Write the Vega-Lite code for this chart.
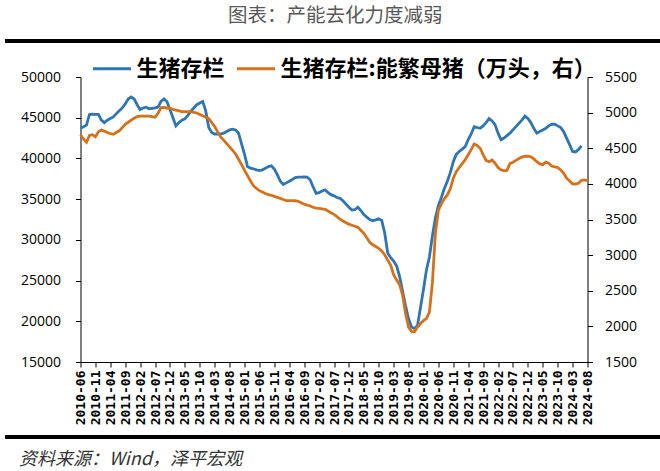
{
  "$schema": "https://vega.github.io/schema/vega-lite/v6.json",
  "padding": {"left": 4, "top": 4, "right": 0, "bottom": 0},
  "datasets": {
    "pigs": [
      {"date": "2010-06", "hog": 43700, "sow": 4690},
      {"date": "2010-07", "hog": 43900, "sow": 4630},
      {"date": "2010-08", "hog": 44100, "sow": 4585},
      {"date": "2010-09", "hog": 45400, "sow": 4680},
      {"date": "2010-10", "hog": 45450, "sow": 4690},
      {"date": "2010-11", "hog": 45400, "sow": 4660},
      {"date": "2010-12", "hog": 45400, "sow": 4730},
      {"date": "2011-01", "hog": 44700, "sow": 4755},
      {"date": "2011-02", "hog": 44400, "sow": 4740},
      {"date": "2011-03", "hog": 44700, "sow": 4720},
      {"date": "2011-04", "hog": 44900, "sow": 4705},
      {"date": "2011-05", "hog": 45100, "sow": 4695},
      {"date": "2011-06", "hog": 45500, "sow": 4720},
      {"date": "2011-07", "hog": 45850, "sow": 4745},
      {"date": "2011-08", "hog": 46200, "sow": 4790},
      {"date": "2011-09", "hog": 46700, "sow": 4835},
      {"date": "2011-10", "hog": 47300, "sow": 4865},
      {"date": "2011-11", "hog": 47550, "sow": 4895},
      {"date": "2011-12", "hog": 47300, "sow": 4920},
      {"date": "2012-01", "hog": 46600, "sow": 4945},
      {"date": "2012-02", "hog": 46000, "sow": 4950},
      {"date": "2012-03", "hog": 46200, "sow": 4950},
      {"date": "2012-04", "hog": 46300, "sow": 4952},
      {"date": "2012-05", "hog": 46100, "sow": 4950},
      {"date": "2012-06", "hog": 46150, "sow": 4945},
      {"date": "2012-07", "hog": 46200, "sow": 4935},
      {"date": "2012-08", "hog": 46300, "sow": 4990},
      {"date": "2012-09", "hog": 47000, "sow": 5070},
      {"date": "2012-10", "hog": 47300, "sow": 5072},
      {"date": "2012-11", "hog": 46950, "sow": 5065},
      {"date": "2012-12", "hog": 46000, "sow": 5060},
      {"date": "2013-01", "hog": 45000, "sow": 5045},
      {"date": "2013-02", "hog": 44000, "sow": 5035},
      {"date": "2013-03", "hog": 44400, "sow": 5025},
      {"date": "2013-04", "hog": 44700, "sow": 5015},
      {"date": "2013-05", "hog": 44860, "sow": 5013},
      {"date": "2013-06", "hog": 45300, "sow": 5013},
      {"date": "2013-07", "hog": 45800, "sow": 5013},
      {"date": "2013-08", "hog": 46200, "sow": 5005},
      {"date": "2013-09", "hog": 46600, "sow": 4995},
      {"date": "2013-10", "hog": 46800, "sow": 4975},
      {"date": "2013-11", "hog": 47000, "sow": 4955},
      {"date": "2013-12", "hog": 45800, "sow": 4935},
      {"date": "2014-01", "hog": 43800, "sow": 4915},
      {"date": "2014-02", "hog": 43200, "sow": 4860},
      {"date": "2014-03", "hog": 43000, "sow": 4805},
      {"date": "2014-04", "hog": 43000, "sow": 4730},
      {"date": "2014-05", "hog": 43000, "sow": 4660},
      {"date": "2014-06", "hog": 43100, "sow": 4615},
      {"date": "2014-07", "hog": 43300, "sow": 4565},
      {"date": "2014-08", "hog": 43500, "sow": 4520},
      {"date": "2014-09", "hog": 43600, "sow": 4470},
      {"date": "2014-10", "hog": 43500, "sow": 4420},
      {"date": "2014-11", "hog": 43100, "sow": 4345},
      {"date": "2014-12", "hog": 41800, "sow": 4270},
      {"date": "2015-01", "hog": 40500, "sow": 4190},
      {"date": "2015-02", "hog": 39000, "sow": 4115},
      {"date": "2015-03", "hog": 38800, "sow": 4040},
      {"date": "2015-04", "hog": 38730, "sow": 3975},
      {"date": "2015-05", "hog": 38600, "sow": 3935},
      {"date": "2015-06", "hog": 38500, "sow": 3905},
      {"date": "2015-07", "hog": 38600, "sow": 3885},
      {"date": "2015-08", "hog": 38800, "sow": 3865},
      {"date": "2015-09", "hog": 39000, "sow": 3850},
      {"date": "2015-10", "hog": 39100, "sow": 3840},
      {"date": "2015-11", "hog": 38700, "sow": 3825},
      {"date": "2015-12", "hog": 38000, "sow": 3810},
      {"date": "2016-01", "hog": 37200, "sow": 3797},
      {"date": "2016-02", "hog": 36800, "sow": 3780},
      {"date": "2016-03", "hog": 37000, "sow": 3765},
      {"date": "2016-04", "hog": 37200, "sow": 3765},
      {"date": "2016-05", "hog": 37400, "sow": 3765},
      {"date": "2016-06", "hog": 37650, "sow": 3763},
      {"date": "2016-07", "hog": 37700, "sow": 3755},
      {"date": "2016-08", "hog": 37700, "sow": 3735},
      {"date": "2016-09", "hog": 37720, "sow": 3715},
      {"date": "2016-10", "hog": 37700, "sow": 3703},
      {"date": "2016-11", "hog": 37380, "sow": 3690},
      {"date": "2016-12", "hog": 36500, "sow": 3672},
      {"date": "2017-01", "hog": 35700, "sow": 3660},
      {"date": "2017-02", "hog": 35800, "sow": 3655},
      {"date": "2017-03", "hog": 36000, "sow": 3648},
      {"date": "2017-04", "hog": 36150, "sow": 3643},
      {"date": "2017-05", "hog": 35800, "sow": 3620},
      {"date": "2017-06", "hog": 35550, "sow": 3595},
      {"date": "2017-07", "hog": 35400, "sow": 3572},
      {"date": "2017-08", "hog": 35200, "sow": 3540},
      {"date": "2017-09", "hog": 35100, "sow": 3505},
      {"date": "2017-10", "hog": 34800, "sow": 3480},
      {"date": "2017-11", "hog": 34400, "sow": 3455},
      {"date": "2017-12", "hog": 34000, "sow": 3435},
      {"date": "2018-01", "hog": 33650, "sow": 3420},
      {"date": "2018-02", "hog": 33700, "sow": 3405},
      {"date": "2018-03", "hog": 34000, "sow": 3390},
      {"date": "2018-04", "hog": 33600, "sow": 3350},
      {"date": "2018-05", "hog": 33100, "sow": 3306},
      {"date": "2018-06", "hog": 32800, "sow": 3245},
      {"date": "2018-07", "hog": 32500, "sow": 3180},
      {"date": "2018-08", "hog": 32350, "sow": 3145},
      {"date": "2018-09", "hog": 32450, "sow": 3120},
      {"date": "2018-10", "hog": 32600, "sow": 3095},
      {"date": "2018-11", "hog": 32400, "sow": 3060},
      {"date": "2018-12", "hog": 30850, "sow": 3005},
      {"date": "2019-01", "hog": 28400, "sow": 2930},
      {"date": "2019-02", "hog": 27800, "sow": 2860},
      {"date": "2019-03", "hog": 27400, "sow": 2725},
      {"date": "2019-04", "hog": 26800, "sow": 2650},
      {"date": "2019-05", "hog": 25500, "sow": 2585},
      {"date": "2019-06", "hog": 23700, "sow": 2440},
      {"date": "2019-07", "hog": 21900, "sow": 2180},
      {"date": "2019-08", "hog": 20300, "sow": 1990},
      {"date": "2019-09", "hog": 19300, "sow": 1930},
      {"date": "2019-10", "hog": 19100, "sow": 1925},
      {"date": "2019-11", "hog": 19500, "sow": 1990},
      {"date": "2019-12", "hog": 21700, "sow": 2040},
      {"date": "2020-01", "hog": 23900, "sow": 2080},
      {"date": "2020-02", "hog": 26300, "sow": 2110},
      {"date": "2020-03", "hog": 27900, "sow": 2200},
      {"date": "2020-04", "hog": 30500, "sow": 2620},
      {"date": "2020-05", "hog": 32700, "sow": 3306},
      {"date": "2020-06", "hog": 34200, "sow": 3630},
      {"date": "2020-07", "hog": 35200, "sow": 3720},
      {"date": "2020-08", "hog": 36300, "sow": 3790},
      {"date": "2020-09", "hog": 37200, "sow": 3845},
      {"date": "2020-10", "hog": 38250, "sow": 3930},
      {"date": "2020-11", "hog": 39600, "sow": 4080},
      {"date": "2020-12", "hog": 40500, "sow": 4170},
      {"date": "2021-01", "hog": 40850, "sow": 4230},
      {"date": "2021-02", "hog": 41150, "sow": 4285},
      {"date": "2021-03", "hog": 41450, "sow": 4340},
      {"date": "2021-04", "hog": 42300, "sow": 4410},
      {"date": "2021-05", "hog": 43000, "sow": 4480},
      {"date": "2021-06", "hog": 43900, "sow": 4560},
      {"date": "2021-07", "hog": 43800, "sow": 4540},
      {"date": "2021-08", "hog": 43700, "sow": 4500},
      {"date": "2021-09", "hog": 44000, "sow": 4410},
      {"date": "2021-10", "hog": 44400, "sow": 4330},
      {"date": "2021-11", "hog": 44900, "sow": 4311},
      {"date": "2021-12", "hog": 44600, "sow": 4335},
      {"date": "2022-01", "hog": 44150, "sow": 4290},
      {"date": "2022-02", "hog": 43100, "sow": 4230},
      {"date": "2022-03", "hog": 42300, "sow": 4195},
      {"date": "2022-04", "hog": 42500, "sow": 4185},
      {"date": "2022-05", "hog": 42800, "sow": 4190},
      {"date": "2022-06", "hog": 43100, "sow": 4285},
      {"date": "2022-07", "hog": 43500, "sow": 4305},
      {"date": "2022-08", "hog": 43900, "sow": 4330},
      {"date": "2022-09", "hog": 44300, "sow": 4355},
      {"date": "2022-10", "hog": 44700, "sow": 4375},
      {"date": "2022-11", "hog": 45200, "sow": 4390},
      {"date": "2022-12", "hog": 44900, "sow": 4388},
      {"date": "2023-01", "hog": 44400, "sow": 4380},
      {"date": "2023-02", "hog": 43700, "sow": 4350},
      {"date": "2023-03", "hog": 43100, "sow": 4311},
      {"date": "2023-04", "hog": 43300, "sow": 4280},
      {"date": "2023-05", "hog": 43500, "sow": 4270},
      {"date": "2023-06", "hog": 43700, "sow": 4305},
      {"date": "2023-07", "hog": 44000, "sow": 4290},
      {"date": "2023-08", "hog": 44200, "sow": 4250},
      {"date": "2023-09", "hog": 44200, "sow": 4240},
      {"date": "2023-10", "hog": 44000, "sow": 4230},
      {"date": "2023-11", "hog": 43800, "sow": 4195},
      {"date": "2023-12", "hog": 43300, "sow": 4150},
      {"date": "2024-01", "hog": 42500, "sow": 4080},
      {"date": "2024-02", "hog": 41700, "sow": 4040},
      {"date": "2024-03", "hog": 40850, "sow": 4000},
      {"date": "2024-04", "hog": 40800, "sow": 3998},
      {"date": "2024-05", "hog": 41100, "sow": 4010},
      {"date": "2024-06", "hog": 41550, "sow": 4050},
      {"date": "2024-07", "sow": 4055},
      {"date": "2024-08", "sow": 4044}
    ]
  },
  "concat": [
    {
      "title": {
        "text": "图表：产能去化力度减弱",
        "anchor": "start",
        "dx": 222,
        "font": "Noto Sans CJK SC",
        "fontSize": 19.5,
        "fontWeight": "normal",
        "color": "#595959",
        "offset": 9
      },
      "width": 724,
      "height": 2,
      "view": {"stroke": "black", "strokeWidth": 2, "fill": "black"},
      "data": {"values": [{"note": ""}]},
      "mark": {"type": "text"},
      "encoding": {"text": {"field": "note"}}
    },
    {
      "width": 507,
      "height": 285,
      "data": {"name": "pigs"},
      "encoding": {
        "x": {
          "field": "date",
          "type": "ordinal",
          "title": null,
          "scale": {"type": "point", "padding": 0},
          "axis": {
            "values": ["2010-06", "2010-11", "2011-04", "2011-09", "2012-02", "2012-07", "2012-12", "2013-05", "2013-10", "2014-03", "2014-08", "2015-01", "2015-06", "2015-11", "2016-04", "2016-09", "2017-02", "2017-07", "2017-12", "2018-05", "2018-10", "2019-03", "2019-08", "2020-01", "2020-06", "2020-11", "2021-04", "2021-09", "2022-02", "2022-07", "2022-12", "2023-05", "2023-10", "2024-03", "2024-08"],
            "labelAngle": -90,
            "labelFont": "DejaVu Sans Mono",
            "labelFontSize": 13,
            "labelFontWeight": "bold",
            "labelPadding": 3,
            "minExtent": 71
          }
        }
      },
      "layer": [
        {
          "mark": {"type": "line", "strokeWidth": 2.8},
          "encoding": {
            "y": {
              "field": "hog",
              "type": "quantitative",
              "title": null,
              "scale": {"domain": [15000, 50000], "nice": false, "zero": false},
              "axis": {
                "values": [15000, 20000, 25000, 30000, 35000, 40000, 45000, 50000],
                "format": "d",
                "labelPadding": 15,
                "minExtent": 76
              }
            },
            "color": {"datum": "生猪存栏"}
          }
        },
        {
          "mark": {"type": "line", "strokeWidth": 2.8},
          "encoding": {
            "y": {
              "field": "sow",
              "type": "quantitative",
              "title": null,
              "scale": {"domain": [1500, 5500], "nice": false, "zero": false},
              "axis": {
                "orient": "right",
                "values": [1500, 2000, 2500, 3000, 3500, 4000, 4500, 5000, 5500],
                "format": "d",
                "labelPadding": 12,
                "minExtent": 69
              }
            },
            "color": {"datum": "生猪存栏:能繁母猪（万头，右）"}
          }
        }
      ],
      "resolve": {"scale": {"y": "independent"}}
    },
    {
      "title": {
        "text": "资料来源：Wind，泽平宏观",
        "orient": "bottom",
        "anchor": "start",
        "dx": 13,
        "font": "Noto Sans CJK SC",
        "fontSize": 18,
        "fontStyle": "italic",
        "fontWeight": "normal",
        "color": "#333333",
        "offset": 9
      },
      "width": 724,
      "height": 2,
      "view": {"stroke": "black", "strokeWidth": 2, "fill": "black"},
      "data": {"values": [{"note": ""}]},
      "mark": {"type": "text"},
      "encoding": {"text": {"field": "note"}}
    }
  ],
  "columns": 1,
  "center": true,
  "spacing": -3,
  "resolve": {"scale": {"color": "independent"}, "legend": {"color": "independent"}},
  "config": {
    "view": {"stroke": null},
    "background": "white",
    "axis": {
      "grid": false,
      "domainColor": "black",
      "domainWidth": 1,
      "tickColor": "black",
      "tickSize": 5,
      "labelColor": "black",
      "labelFont": "Open Sans",
      "labelFontSize": 14
    },
    "range": {"category": ["#2e75b6", "#d6711a"]},
    "legend": {
      "orient": "none",
      "legendX": 7,
      "legendY": -33,
      "direction": "horizontal",
      "title": null,
      "padding": 4,
      "symbolType": "stroke",
      "symbolSize": 1444,
      "symbolStrokeWidth": 3,
      "labelFont": "Noto Sans CJK SC",
      "labelFontSize": 22,
      "labelFontWeight": "bold",
      "labelColor": "black",
      "labelLimit": 500,
      "labelOffset": 4,
      "columnPadding": 5
    }
  }
}
